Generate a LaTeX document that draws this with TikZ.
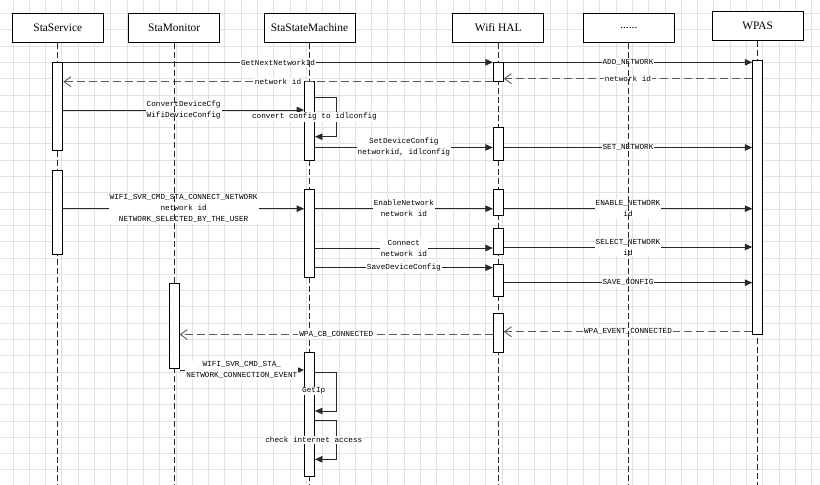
\documentclass[tikz,border=0pt]{standalone}
\usepackage{fontspec}
\setmainfont{Liberation Serif}
\setmonofont{Liberation Mono}
\usetikzlibrary{arrows.meta}
\definecolor{gridgrey}{RGB}{226, 226, 226}
\definecolor{linegrey}{RGB}{40, 40, 40}
\definecolor{replygrey}{RGB}{90, 90, 90}

\begin{document}
\begin{tikzpicture}
  [
    x=1pt, y=-1pt,
    gridline/.style={gridgrey, line width=0.7pt},
    head/.style={draw, fill=white, line width=1pt, minimum width=91pt, minimum height=29pt, inner sep=0pt, font=\fontsize{11.4}{13}\selectfont},
    lifeline/.style={linegrey, line width=0.8pt, dash pattern=on 6pt off 3pt},
    act/.style={draw, fill=white, line width=0.9pt, minimum width=10pt, inner sep=0pt},
    call/.style={linegrey, line width=0.9pt, -{Triangle[length=7.5pt, width=6.5pt]}},
    reply/.style={replygrey, line width=0.9pt, dash pattern=on 8pt off 4pt, -{Straight Barb[length=7pt, width=10pt]}},
    msg/.style={fill=white, text=black, inner sep=1pt, align=center, font=\ttfamily\fontsize{7.7}{11}\selectfont}
  ]
  \useasboundingbox (0,0) rectangle (820,485);
  \fill[white] (0,0) rectangle (820,485);
  \foreach \gx in {-3.4,12.9,...,820} \draw[gridline] (\gx,0) -- (\gx,485);
  \foreach \gy in {-2.9,13.4,...,485} \draw[gridline] (0,\gy) -- (820,\gy);

  \coordinate (bot) at (0,485);

  \node[head] (svc) at (57.8, 27.8) {StaService};
  \node[head] (mon) at (174.2, 27.8) {StaMonitor};
  \node[head] (ssm) at (309.5, 27.8) {StaStateMachine};
  \node[head] (hal) at (498.3, 27.8) {Wifi HAL};
  \node[head] (dots) at (628.8, 27.8) {......};
  \node[head] (wpas) at (757.7, 26.2) {WPAS};

  \draw[lifeline] (svc.south) -- (svc |- bot);
  \draw[lifeline] (mon.south) -- (mon |- bot);
  \draw[lifeline] (ssm.south) -- (ssm |- bot);
  \draw[lifeline] (hal.south) -- (hal |- bot);
  \draw[lifeline] (wpas.south) -- (wpas |- bot);

  \node[act, minimum height=88pt] (svc1) at (svc |- 0,106) {};
  \node[act, minimum height=84pt] (svc2) at (svc |- 0,212) {};
  \node[act, minimum height=85pt] (mon1) at (mon |- 0,325.5) {};
  \node[act, minimum height=78.3pt] (ssm1) at (ssm |- 0,120.8) {};
  \node[act, minimum height=88pt] (ssm2) at (ssm |- 0,233.3) {};
  \node[act, minimum height=124.4pt] (ssm3) at (ssm |- 0,414.5) {};
  \node[act, minimum height=19.4pt] (hal1) at (hal |- 0,72) {};
  \node[act, minimum height=32.7pt] (hal2) at (hal |- 0,143.7) {};
  \node[act, minimum height=26.4pt] (hal3) at (hal |- 0,202.5) {};
  \node[act, minimum height=25.6pt] (hal4) at (hal |- 0,241.5) {};
  \node[act, minimum height=32.4pt] (hal5) at (hal |- 0,280.5) {};
  \node[act, minimum height=39pt] (hal6) at (hal |- 0,332.8) {};
  \node[act, minimum height=274pt] (wpas1) at (wpas |- 0,197) {};

  \draw[call] (svc1.east |- 0,62.3) -- node[msg] {GetNextNetworkId} (hal1.west |- 0,62.3);
  \draw[call] (hal1.east |- 0,62.3) -- node[msg] {ADD\_NETWORK} (wpas1.west |- 0,62.3);
  \draw[reply] (wpas1.west |- 0,78.7) -- node[msg] {network id} (hal1.east |- 0,78.7);
  \draw[reply] (hal1.west |- 0,81.7) -- node[msg] {network id} (svc1.east |- 0,81.7);
  \draw[call] (svc1.east |- 0,110) -- node[msg] {ConvertDeviceCfg\\WifiDeviceConfig} (ssm1.west |- 0,110);
  \draw[call] (ssm1.east |- 0,97.3) -- ++(21,0) -- ++(0,39.4) -- (ssm1.east |- 0,136.7);
  \node[msg] (cfgnote) at (314.5,117) {convert config to idlconfig};
  \draw[call] (ssm1.east |- 0,147.5) -- node[msg] {SetDeviceConfig\\networkid, idlconfig} (hal2.west |- 0,147.5);
  \draw[call] (hal2.east |- 0,147.5) -- node[msg] {SET\_NETWORK} (wpas1.west |- 0,147.5);

  \draw[call] (svc2.east |- 0,208.7) -- node[msg] {WIFI\_SVR\_CMD\_STA\_CONNECT\_NETWORK\\network id\\NETWORK\_SELECTED\_BY\_THE\_USER} (ssm2.west |- 0,208.7);
  \draw[call] (ssm2.east |- 0,208.7) -- node[msg] {EnableNetwork\\network id} (hal3.west |- 0,208.7);
  \draw[call] (hal3.east |- 0,208.7) -- node[msg] {ENABLE\_NETWORK\\id} (wpas1.west |- 0,208.7);
  \draw[call] (ssm2.east |- 0,248) -- node[msg] {Connect\\network id} (hal4.west |- 0,248);
  \draw[call] (hal4.east |- 0,247) -- node[msg] {SELECT\_NETWORK\\id} (wpas1.west |- 0,247);
  \draw[call] (ssm2.east |- 0,267.7) -- node[msg] {SaveDeviceConfig} (hal5.west |- 0,267.7);
  \draw[call] (hal5.east |- 0,282.7) -- node[msg] {SAVE\_CONFIG} (wpas1.west |- 0,282.7);

  \draw[reply] (wpas1.west |- 0,331.7) -- node[msg] {WPA\_EVENT\_CONNECTED} (hal6.east |- 0,331.7);
  \draw[reply] (hal6.west |- 0,334.5) -- node[msg] {WPA\_CB\_CONNECTED} (mon1.east |- 0,334.5);
  \draw[call] (mon1.east |- 0,370) -- node[msg] {WIFI\_SVR\_CMD\_STA\_\\NETWORK\_CONNECTION\_EVENT} (ssm3.west |- 0,370);
  \draw[call] (ssm3.east |- 0,372.3) -- ++(21,0) -- ++(0,38.7) -- (ssm3.east |- 0,411);
  \node[msg] (ipnote) at (313.7,391) {GetIp};
  \draw[call] (ssm3.east |- 0,420.7) -- ++(21,0) -- ++(0,38.6) -- (ssm3.east |- 0,459.3);
  \node[msg] (netnote) at (313.8,440) {check internet access};

  \draw[lifeline] (mon.south) -- (mon1.north);
  \draw[lifeline] (ssm.south) -- (ssm1.north);
  \draw[lifeline] (dots.south) -- (dots |- bot);
\end{tikzpicture}
\end{document}
